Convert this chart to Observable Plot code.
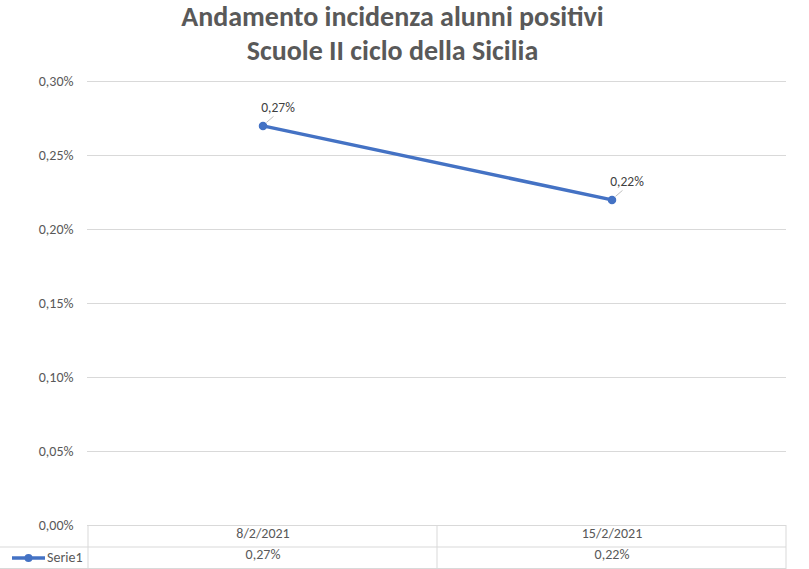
<!DOCTYPE html>
<html><head><meta charset="utf-8">
<script src="https://cdn.jsdelivr.net/npm/d3@7"></script>
<script src="https://cdn.jsdelivr.net/npm/@observablehq/plot@0.6"></script>
<style>
body{margin:0;background:#fff;font-family:Carlito,Calibri,"Open Sans",sans-serif;}
#title{width:809px;height:65px;overflow:visible;text-align:center;color:#595959;font-weight:bold;font-size:28px;line-height:34px;box-sizing:border-box;}
#title div{position:relative;left:-12px;}
#chart{margin-top:0;}
</style></head><body>
<div id="title"><div>Andamento incidenza alunni positivi<br>Scuole II ciclo della Sicilia</div></div>
<div id="chart"></div>
<script>
const dates = ["8/2/2021", "15/2/2021"];
const values = [0.0027, 0.0022];
const seriesName = "Serie1";
const yTicks = [0, 0.0005, 0.001, 0.0015, 0.002, 0.0025, 0.003];

const data = dates.map((d, i) => ({date: d, value: values[i]}));
const fmt = v => (v * 100).toFixed(2).replace(".", ",") + "%";
const blue = "#4472C4", grid = "#d9d9d9", txt = "#595959";

const W = 809, H = 504;
const plot = Plot.plot({
  width: W, height: H,
  marginLeft: 87, marginRight: 23, marginTop: 16, marginBottom: 44,
  style: {fontFamily: 'Carlito, Calibri, "Open Sans", sans-serif', fontSize: "14px", color: txt, background: "#fff"},
  x: {type: "band", domain: dates, padding: 0, axis: null},
  y: {domain: [0, 0.003], ticks: yTicks, tickFormat: fmt, tickSize: 0, tickPadding: 14, label: null},
  marks: [
    Plot.ruleY(yTicks, {stroke: grid, strokeWidth: 1}),
    Plot.line(data, {x: "date", y: "value", stroke: blue, strokeWidth: 3.5}),
    Plot.dot(data, {x: "date", y: "value", r: 3.5, fill: blue, stroke: blue}),
    Plot.text(data, {x: "date", y: "value", text: d => fmt(d.value), dx: 15, dy: -18, fill: "#404040", fontSize: 13.5}),
    Plot.text(data, {x: "date", frameAnchor: "bottom", text: "date", dy: 12, fill: txt, fontSize: 14}),
    Plot.text(data, {x: "date", frameAnchor: "bottom", text: d => fmt(d.value), dy: 33, fill: txt, fontSize: 14})
  ]
});
document.getElementById("chart").appendChild(plot);

// data-table lines, leader lines and legend, positioned through the plot's own scales
const sx = plot.scale("x"), sy = plot.scale("y");
const svg = d3.select(plot);
const bw = sx.bandwidth;
const xEnd = sx.apply(dates[dates.length - 1]) + bw;
const yBase = sy.apply(0);
const g = svg.append("g").attr("stroke", grid).attr("stroke-width", 1);
const edges = dates.map(d => sx.apply(d)).concat([xEnd]);
edges.forEach(x => g.append("line").attr("x1", x).attr("x2", x).attr("y1", yBase).attr("y2", H));
g.append("line").attr("x1", 0).attr("x2", xEnd).attr("y1", yBase + 22).attr("y2", yBase + 22);
g.append("line").attr("x1", 0).attr("x2", xEnd).attr("y1", H - 0.5).attr("y2", H - 0.5);

const lg = svg.append("g");
data.forEach(d => {
  const px = sx.apply(d.date) + bw / 2, py = sy.apply(d.value);
  lg.append("line").attr("x1", px + 4).attr("y1", py - 3).attr("x2", px + 11).attr("y2", py - 9)
    .attr("stroke", "#bfbfbf").attr("stroke-width", 1);
});
const ly = yBase + 33;
lg.append("line").attr("x1", 12).attr("x2", 45).attr("y1", ly).attr("y2", ly).attr("stroke", blue).attr("stroke-width", 3.5);
lg.append("circle").attr("cx", 28.5).attr("cy", ly).attr("r", 4).attr("fill", blue);
lg.append("text").attr("x", 47).attr("y", ly).attr("dy", "0.32em").attr("text-anchor", "start")
  .attr("fill", txt).attr("font-size", 14).text(seriesName);
</script>
</body></html>
